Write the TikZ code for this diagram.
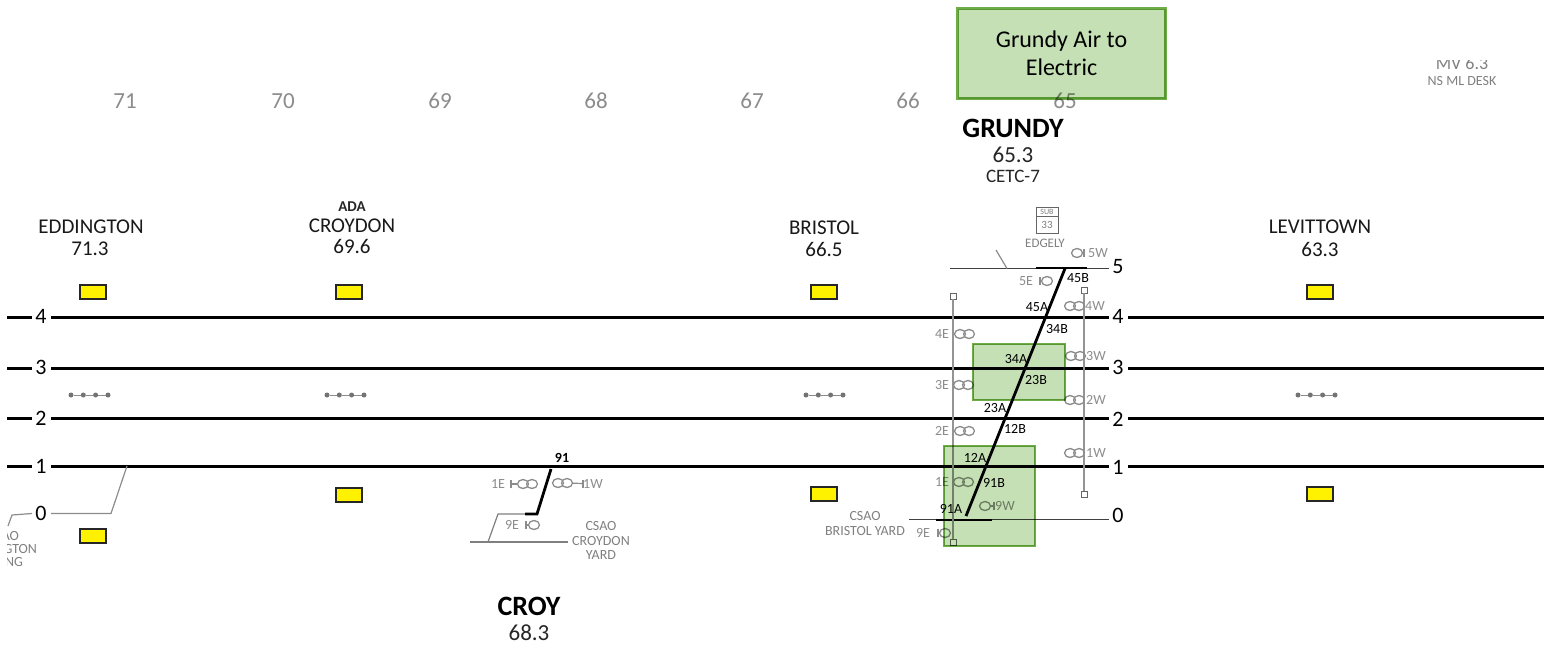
\documentclass[tikz,border=0pt]{standalone}
\usepackage{fontspec}
\setmainfont{Carlito}
\usetikzlibrary{shapes.geometric}
\definecolor{sigcol}{HTML}{8C8C8C}
\definecolor{boxfill}{HTML}{C5E0B4}
\definecolor{boxline}{HTML}{70AD47}
\newcommand{\fs}[1]{\fontsize{#1}{#1}\selectfont}
\tikzset{
  x=1pt,y=-1pt,
  every node/.style={inner sep=0pt,outer sep=0pt,align=center},
  mainline/.style={line width=3pt,black},
  thinline/.style={line width=1.5pt,black!75},
  branchline/.style={line width=1.2pt,black!45},
  xover/.style={line width=2.8pt,black},
  yard/.style={line width=1.2pt,black!50},
  poleline/.style={line width=1.2pt,black!42},
  polecap/.style={draw=black!60,fill=white,line width=.9pt,minimum width=6pt,minimum height=6pt,rectangle},
  mile/.style={text=black!45,font=\fs{23}},
  stname/.style={text=black!90,font=\fs{21}},
  stmile/.style={text=black!90,font=\fs{21}},
  tracknum/.style={text=black,font=\fs{22}},
  swlabel/.style={text=black,font=\fs{14}},
  siglabel/.style={text=sigcol,font=\fs{14}},
  smalltxt/.style={text=black!50,font=\fs{14}},
  head/.style={ellipse,draw=sigcol,line width=1.3pt,minimum width=11pt,minimum height=9pt},
  stem/.style={draw=sigcol,line width=1.2pt},
  yellowbox/.style={rectangle,draw=black!85,fill=yellow,line width=1.3pt,minimum width=26pt,minimum height=14pt},
  dotnode/.style={circle,fill=black!55,minimum size=5pt},
  dotline/.style={line width=1pt,black!45},
  greenbox/.style={draw=boxline,line width=2.4pt,fill=boxfill,blend mode=multiply},
  greentop/.style={rectangle,draw=boxline,line width=2.4pt,fill=boxfill,blend mode=multiply,minimum width=208pt,minimum height=90pt,font=\fs{24},text=black}
}
% double-head signal: name, x1, x2, y, label, label x
\newcommand{\sigpair}[6]{%
  \node[head] (#1a) at (#2,#4) {};
  \node[head] (#1b) at (#3,#4) {};
  \node[siglabel] (#1l) at (#6,#4) {#5};
}
% single-head signal with a stem and bar: name, head x, bar x, y, label, label x
\newcommand{\sigone}[6]{%
  \node[head] (#1a) at (#2,#4) {};
  \coordinate (#1s) at (#3,#4);
  \coordinate (#1t) at (#3,#4-4);
  \coordinate (#1u) at (#3,#4+4);
  \draw[stem] (#1a) -- (#1s);
  \draw[stem] (#1t) -- (#1u);
  \node[siglabel] (#1l) at (#6,#4) {#5};
}
% automatic block marker: four dots from x with 12.3 pitch at y=395
\newcommand{\blockdots}[2]{%
  \node[dotnode] (#1a) at (#2,395) {};
  \node[dotnode] (#1b) at (#2+12.3,395) {};
  \node[dotnode] (#1c) at (#2+24.6,395) {};
  \node[dotnode] (#1d) at (#2+37,395) {};
  \draw[dotline] (#1a) -- (#1b) -- (#1c) -- (#1d);
}
\begin{document}
\begin{tikzpicture}
\useasboundingbox (0,0) rectangle (1554,648);
\fill[white] (0,0) rectangle (1554,648);

% mileposts
\node[mile] (m71) at (125,101) {71};
\node[mile] (m70) at (283,101) {70};
\node[mile] (m69) at (440,101) {69};
\node[mile] (m68) at (596,101) {68};
\node[mile] (m67) at (752,101) {67};
\node[mile] (m66) at (908,101) {66};
\node[mile] (m65) at (1065,101) {65};

% cut-off label, top right
\begin{scope}
\clip (1400,60.5) rectangle (1510,100);
\node[text=black!50,font=\fs{18}] (mv) at (1462,63) {MV 6.3};
\end{scope}
\node[smalltxt] (desk) at (1462,81) {NS ML DESK};

% stations
\node[stname] (edd) at (91,227) {EDDINGTON};
\node[stmile] (eddm) at (90,249) {71.3};
\node[font=\bfseries\fs{15},text=black!85] (ada) at (352,207) {ADA};
\node[stname] (cro) at (352,226) {CROYDON};
\node[stmile] (crom) at (352,246) {69.6};
\node[stname] (bri) at (824,228) {BRISTOL};
\node[stmile] (brim) at (824,249) {66.5};
\node[stname] (lev) at (1320,227) {LEVITTOWN};
\node[stmile] (levm) at (1320,249) {63.3};
\node[font=\bfseries\fs{28},text=black] (gru) at (1013,128) {GRUNDY};
\node[font=\fs{23},text=black!85] (grum) at (1013,155) {65.3};
\node[font=\fs{19},text=black!85] (cetc) at (1013,176) {CETC-7};
\node[font=\bfseries\fs{28},text=black] (croy) at (529,606) {CROY};
\node[font=\fs{23},text=black!85] (croym) at (529,633) {68.3};

% substation
\node[rectangle,draw=black!60,line width=.9pt,minimum width=22pt,minimum height=26pt] (subbox) at (1047,220) {};
\node[text=black!50,font=\fs{8}] (subt) at (1047,212) {SUB};
\draw[black!60,line width=.6pt] (subbox.west |- 0,216) -- (subbox.east |- 0,216);
\node[text=black!50,font=\fs{11}] (subn) at (1047,225) {33};
\node[smalltxt,font=\fs{13}] (edg) at (1045,243) {EDGELY};

% track numbers
\node[tracknum] (l4) at (41,316) {4};
\node[tracknum] (l3) at (41,367) {3};
\node[tracknum] (l2) at (41,418) {2};
\node[tracknum] (l1) at (41,466) {1};
\node[tracknum] (l0) at (41,513) {0};
\node[tracknum] (r5) at (1118,267) {5};
\node[tracknum] (r4) at (1118,316) {4};
\node[tracknum] (r3) at (1118,367) {3};
\node[tracknum] (r2) at (1118,419) {2};
\node[tracknum] (r1) at (1118,467) {1};
\node[tracknum] (r0) at (1118,515) {0};

% track end points
\foreach \n/\y in {4/317,3/368,2/418,1/466}{
  \coordinate (a\n) at (7,\y);
  \coordinate (b\n) at (32,\y);
  \coordinate (c\n) at (51,\y);
  \coordinate (d\n) at (1109,\y);
  \coordinate (e\n) at (1128,\y);
  \coordinate (f\n) at (1544,\y);
  \draw[mainline] (a\n) -- (b\n);
  \draw[mainline] (c\n) -- (d\n);
  \draw[mainline] (e\n) -- (f\n);
}

% track 5
\coordinate (t5w) at (950,268.5);
\coordinate (t5e) at (1109,268.5);
\coordinate (t5a) at (1036,268);
\coordinate (t5b) at (1087,268);
\coordinate (sp5a) at (996,250);
\coordinate (sp5b) at (1007,268.5);
\draw[thinline] (t5w) -- (t5e);
\draw[mainline,line width=2.6pt] (t5a) -- (t5b);
\draw[branchline] (sp5a) -- (sp5b);

% track 0 at Grundy
\coordinate (t0w) at (909,519.5);
\coordinate (t0e) at (1109,519.5);
\coordinate (t0a) at (936,520);
\coordinate (t0b) at (992,520);
\draw[thinline] (t0w) -- (t0e);
\draw[mainline,line width=2.6pt] (t0a) -- (t0b);

% Grundy crossover
\coordinate (xa) at (1065,268.5);
\coordinate (xb) at (966,516);
\draw[xover] (xa) -- (xb);

% catenary poles
\node[polecap] (p1t) at (953,296) {};
\node[polecap] (p1b) at (953,542) {};
\draw[poleline] (p1t) -- (p1b);
\node[polecap] (p2t) at (1084,290) {};
\node[polecap] (p2b) at (1084,494) {};
\draw[poleline] (p2t) -- (p2b);

% left edge track 0 and branch
\coordinate (z1) at (8,526);
\coordinate (z2) at (12,515);
\coordinate (z3) at (32,513.5);
\coordinate (z4) at (51,513.5);
\coordinate (z5) at (111,513.5);
\coordinate (z6) at (127,466);
\draw[branchline] (z1) -- (z2) -- (z3);
\draw[branchline] (z4) -- (z5) -- (z6);
\begin{scope}
\clip (7,525) rectangle (60,575);
\node[smalltxt,anchor=east] (lc1) at (19,536) {AO};
\node[smalltxt,anchor=east] (lc2) at (37,549) {GTON};
\node[smalltxt,anchor=east] (lc3) at (23,562) {NG};
\end{scope}

% Croy
\coordinate (cx1) at (551,469);
\coordinate (cx2) at (537,514);
\coordinate (cx3) at (525,514);
\coordinate (cx4) at (498,514);
\coordinate (cx5) at (488,542);
\coordinate (cx6) at (470,542);
\coordinate (cx7) at (568,542);
\draw[yard] (cx3) -- (cx4) -- (cx5);
\draw[yard] (cx6) -- (cx7);
\draw[xover,line join=miter] (cx1) -- (cx2) -- (cx3);
\node[swlabel,font=\bfseries\fs{14}] (n91) at (562,458) {91};
\node[siglabel] (c1el) at (498,484) {1E};
\coordinate (c1es) at (511,484);
\coordinate (c1et) at (511,480);
\coordinate (c1eu) at (511,488);
\node[head] (c1ea) at (523,484) {};
\node[head] (c1eb) at (532,484) {};
\draw[stem] (c1es) -- (c1ea);
\draw[stem] (c1et) -- (c1eu);
\node[head] (c1wa) at (558,483) {};
\node[head] (c1wb) at (567,483) {};
\coordinate (c1ws) at (583,483.5);
\coordinate (c1wt) at (583,480);
\coordinate (c1wu) at (583,488);
\node[siglabel] (c1wl) at (593,484) {1W};
\draw[stem] (c1wb) -- (c1ws);
\draw[stem] (c1wt) -- (c1wu);
\sigone{c9e}{534}{526}{525}{9E}{512}
\node[smalltxt] (cy1) at (601,526) {CSAO};
\node[smalltxt] (cy2) at (601,541) {CROYDON};
\node[smalltxt] (cy3) at (601,555) {YARD};

% Bristol yard text
\node[smalltxt] (by1) at (865,516) {CSAO};
\node[smalltxt] (by2) at (865,531) {BRISTOL YARD};

% Grundy signals
\sigone{s5w}{1077}{1084}{253}{5W}{1098}
\sigone{s5e}{1047}{1040}{281}{5E}{1026}
\sigpair{s4w}{1070}{1079}{306}{4W}{1095}
\sigpair{s4e}{960}{969}{334}{4E}{942}
\sigpair{s3w}{1071}{1080}{356}{3W}{1096}
\sigpair{s3e}{959}{968}{385}{3E}{942}
\sigpair{s2w}{1070}{1079}{400}{2W}{1096}
\sigpair{s2e}{960}{969}{431}{2E}{942}
\sigpair{s1w}{1070}{1079}{453}{1W}{1096}
\sigpair{s1e}{959}{968}{482}{1E}{942}
\sigone{s9w}{985}{994}{506}{9W}{1005}
\sigone{s9e}{945}{938}{533}{9E}{923}

% switch labels
\node[swlabel] (k45b) at (1078,278) {45B};
\node[swlabel] (k45a) at (1037,307) {45A};
\node[swlabel] (k34b) at (1057,329) {34B};
\node[swlabel] (k34a) at (1016,359) {34A};
\node[swlabel] (k23b) at (1036,380) {23B};
\node[swlabel] (k23a) at (995,408) {23A};
\node[swlabel] (k12b) at (1015,429) {12B};
\node[swlabel] (k12a) at (975,458) {12A};
\node[swlabel] (k91b) at (994,483) {91B};
\node[swlabel] (k91a) at (951,509) {91A};

% yellow markers
\node[yellowbox] (y1) at (93,292) {};
\node[yellowbox] (y2) at (349,292) {};
\node[yellowbox] (y3) at (824,292) {};
\node[yellowbox] (y4) at (1320,292) {};
\node[yellowbox] (y5) at (349,495) {};
\node[yellowbox] (y6) at (824,494) {};
\node[yellowbox] (y7) at (1320,494) {};
\node[yellowbox] (y8) at (93,536) {};

% dotted block markers
\blockdots{da}{71}
\blockdots{db}{327}
\blockdots{dc}{806}
\blockdots{dd}{1298}

% green highlights
\node[greentop] (gtop) at (1061.5,53.5) {Grundy Air to\\[4pt]Electric};
\draw[greenbox] (973,344) rectangle (1065,400);
\draw[greenbox] (944,446) rectangle (1035,546);
\end{tikzpicture}
\end{document}
